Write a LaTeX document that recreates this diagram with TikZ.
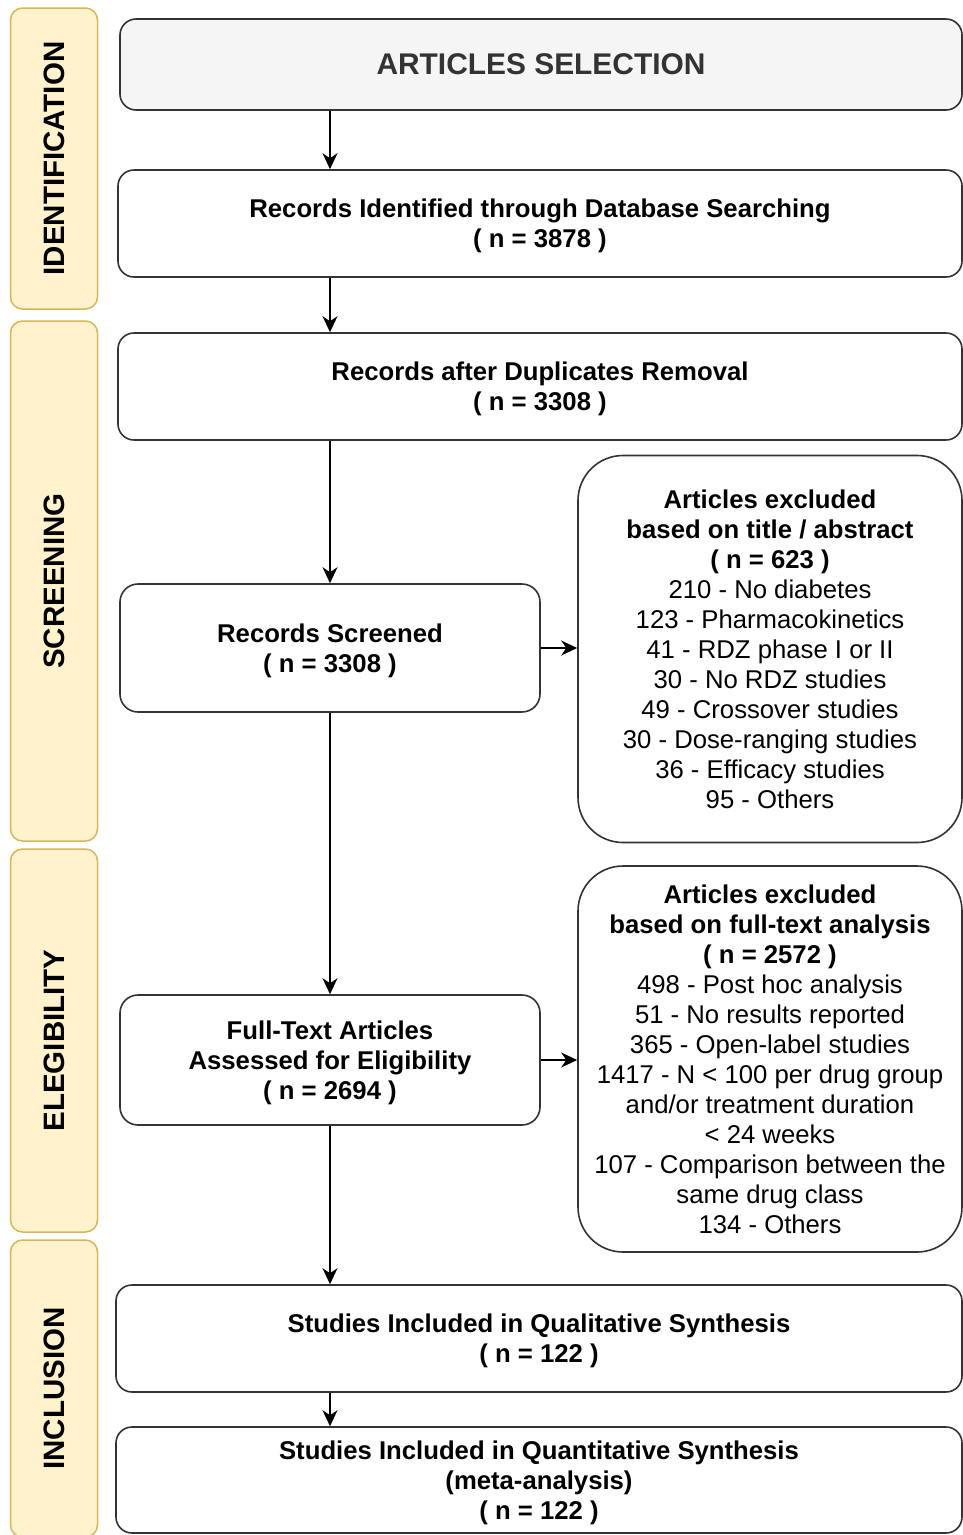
\documentclass[tikz,border=0pt]{standalone}
\usepackage{fontspec}
\setmainfont{Liberation Sans}
\usetikzlibrary{arrows.meta}
\definecolor{sidefill}{HTML}{FFF2CC}
\definecolor{sidedraw}{HTML}{D6B656}
\definecolor{boxdraw}{HTML}{333333}
\definecolor{selfill}{HTML}{F5F5F5}
\definecolor{seltext}{HTML}{333333}
\begin{document}
\begin{tikzpicture}[x=1pt,y=-1pt,
  side/.style={draw=sidedraw, fill=sidefill, line width=1.5pt, rounded corners=12pt, inner sep=0pt, rotate=90, minimum height=87pt, font=\fontsize{29.5}{35}\selectfont\bfseries},
  box/.style={draw=boxdraw, line width=1.6pt, rounded corners=16pt, inner sep=0pt, align=center, text depth=0pt, font=\fontsize{25.7}{30}\selectfont\bfseries},
  exbox/.style={draw=boxdraw, line width=1.6pt, rounded corners=45pt, inner sep=0pt, align=center, font=\fontsize{25.7}{30}\selectfont, minimum width=384pt},
  arr/.style={draw=black, line width=1.5pt, -{Stealth[length=16pt,width=15pt,inset=5pt]}}
]
\useasboundingbox (0,0) rectangle (963,1535);

% side phase labels
\node[side, minimum width=301pt] (idf) at (54,158.5) {IDENTIFICATION};
\node[side, minimum width=520pt] (scr) at (54,581) {SCREENING};
\node[side, minimum width=383pt] (elg) at (54,1040.5) {ELEGIBILITY};
\node[side, minimum width=297pt] (inc) at (54,1388.5) {INCLUSION};

% main boxes
\node[box, fill=selfill, text=seltext, minimum width=842pt, minimum height=91pt, font=\fontsize{29.9}{35}\selectfont\bfseries] (sel) at (541,64.5) {ARTICLES SELECTION};
\node[box, minimum width=844pt, minimum height=107pt] (rid) at (540,223.5) {Records Identified through Database Searching\\( n = 3878 )};
\node[box, minimum width=844pt, minimum height=107pt] (rdr) at (540,386.5) {Records after Duplicates Removal\\( n = 3308 )};
\node[box, rounded corners=18pt, minimum width=420pt, minimum height=128pt] (rs) at (330,648) {Records Screened\\( n = 3308 )};
\node[exbox, minimum height=387pt] (ex1) at (770,649) {\textbf{Articles excluded}\\\textbf{based on title / abstract}\\\textbf{( n = 623 )}\\210 - No diabetes\\123 - Pharmacokinetics\\41 - RDZ phase I or II\\30 - No RDZ studies\\49 - Crossover studies\\30 - Dose-ranging studies\\36 - Efficacy studies\\95 - Others};
\node[box, rounded corners=18pt, minimum width=420pt, minimum height=130pt] (ft) at (330,1060) {Full-Text Articles\\Assessed for Eligibility\\( n = 2694 )};
\node[exbox, minimum height=386pt] (ex2) at (770,1059) {\textbf{Articles excluded}\\\textbf{based on full-text analysis}\\\textbf{( n = 2572 )}\\498 - Post hoc analysis\\51 - No results reported\\365 - Open-label studies\\1417 - N < 100 per drug group\\and/or treatment duration\\< 24 weeks\\107 - Comparison between the\\same drug class\\134 - Others};
\node[box, minimum width=846pt, minimum height=107pt] (qual) at (539,1338.5) {Studies Included in Qualitative Synthesis\\( n = 122 )};
\node[box, minimum width=846pt, minimum height=106pt] (quant) at (539,1480) {Studies Included in Quantitative Synthesis\\(meta-analysis)\\( n = 122 )};

% connectors
\draw[arr] (sel.south -| rs.north) -- (rid.north -| rs.north);
\draw[arr] (rid.south -| rs.north) -- (rdr.north -| rs.north);
\draw[arr] (rdr.south -| rs.north) -- (rs.north);
\draw[arr] (rs.east) -- (rs.east -| ex1.west);
\draw[arr] (rs.south) -- (ft.north);
\draw[arr] (ft.east) -- (ft.east -| ex2.west);
\draw[arr] (ft.south) -- (qual.north -| ft.south);
\draw[arr] (qual.south -| ft.south) -- (quant.north -| ft.south);
\end{tikzpicture}
\end{document}
